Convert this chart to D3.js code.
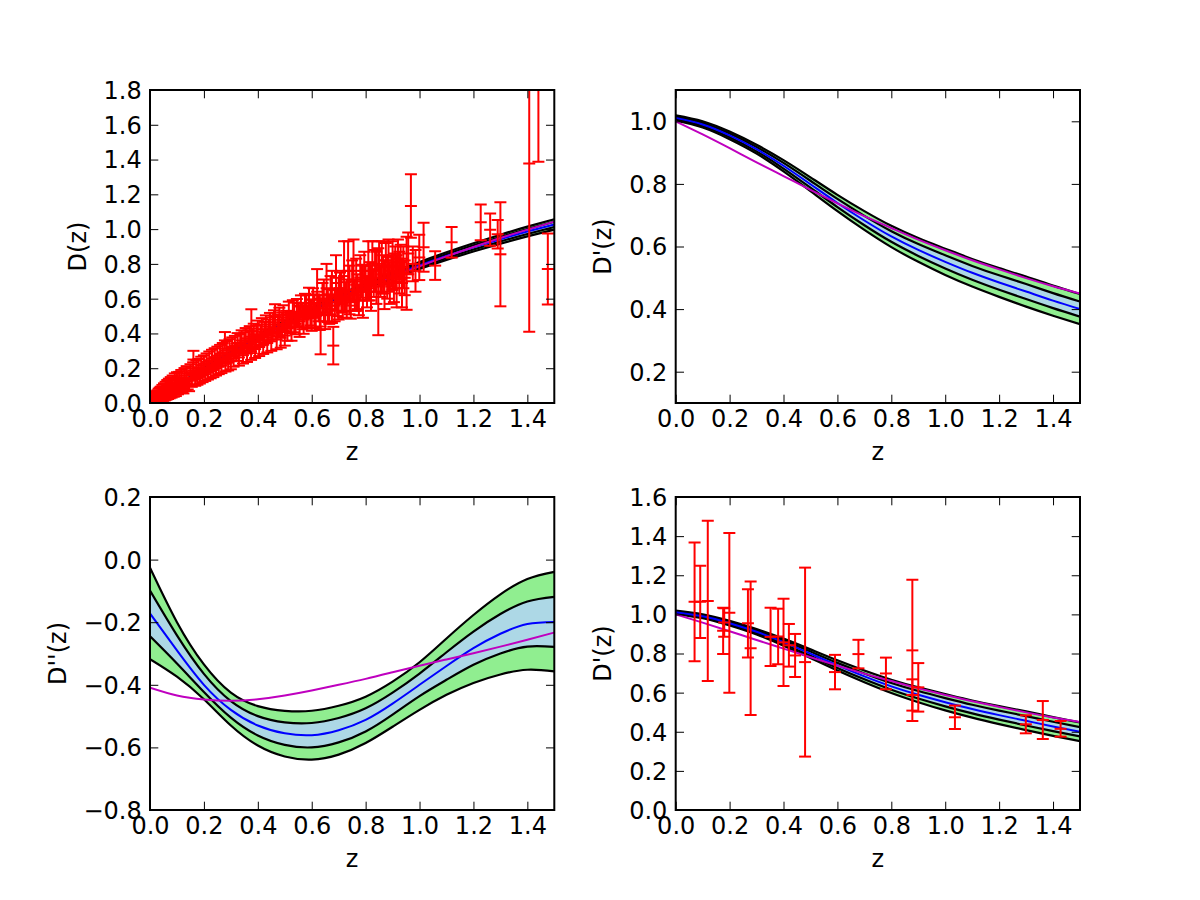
<!DOCTYPE html>
<html lang="en">
<head>
  <meta charset="utf-8">
  <title>D(z) reconstruction</title>
  <script src="https://d3js.org/d3.v7.min.js"></script>
  <style>
    body { margin: 0; background: #fff; }
    svg text { font-family: "DejaVu Sans", sans-serif; font-size: 24px; fill: #000; }
  </style>
</head>
<body>
<script type="text/javascript">
  // redshift grid for the reconstructed curves
  var zGrid = [0, 0.1, 0.2, 0.3, 0.4, 0.5, 0.6, 0.7, 0.8, 0.9, 1.0, 1.1, 1.2, 1.3, 1.4, 1.5];

  // D(z)
  var dMean  = [0.000,0.100,0.197,0.291,0.379,0.461,0.537,0.608,0.673,0.734,0.791,0.845,0.895,0.942,0.986,1.027];
  var dHi1   = [0.000,0.101,0.199,0.294,0.383,0.466,0.543,0.615,0.681,0.743,0.801,0.856,0.907,0.955,1.000,1.042];
  var dLo1   = [0.000,0.099,0.195,0.288,0.375,0.456,0.531,0.601,0.665,0.725,0.781,0.834,0.883,0.929,0.972,1.012];
  var dHi2   = [0.000,0.102,0.201,0.297,0.387,0.471,0.549,0.622,0.689,0.752,0.811,0.867,0.919,0.968,1.014,1.057];
  var dLo2   = [0.000,0.098,0.193,0.285,0.371,0.451,0.525,0.594,0.657,0.716,0.771,0.823,0.871,0.916,0.958,0.997];
  var dModel = [0.000,0.098,0.192,0.281,0.365,0.446,0.522,0.593,0.661,0.725,0.786,0.843,0.897,0.949,0.997,1.043];

  // D'(z)
  var dpMean  = [1.011,0.990,0.955,0.911,0.858,0.799,0.739,0.683,0.632,0.589,0.551,0.516,0.485,0.456,0.427,0.400];
  var dpHi1   = [1.015,0.995,0.961,0.918,0.867,0.810,0.752,0.698,0.649,0.608,0.572,0.538,0.508,0.480,0.451,0.424];
  var dpLo1   = [1.007,0.985,0.949,0.904,0.849,0.788,0.726,0.668,0.615,0.570,0.530,0.494,0.462,0.432,0.403,0.376];
  var dpHi2   = [1.019,1.000,0.967,0.925,0.876,0.821,0.765,0.713,0.666,0.627,0.593,0.560,0.531,0.504,0.475,0.448];
  var dpLo2   = [1.003,0.980,0.943,0.897,0.840,0.777,0.713,0.653,0.598,0.551,0.509,0.472,0.439,0.408,0.379,0.352];
  var dpModel = [1.000,0.958,0.914,0.869,0.825,0.781,0.738,0.697,0.659,0.622,0.588,0.556,0.527,0.499,0.473,0.450];

  // D''(z)
  var ddMean  = [-0.172,-0.290,-0.400,-0.480,-0.530,-0.555,-0.561,-0.545,-0.512,-0.460,-0.400,-0.340,-0.283,-0.237,-0.206,-0.199];
  var ddHi1   = [-0.099,-0.242,-0.365,-0.452,-0.500,-0.520,-0.522,-0.506,-0.475,-0.425,-0.364,-0.296,-0.230,-0.174,-0.134,-0.119];
  var ddLo1   = [-0.245,-0.332,-0.423,-0.505,-0.562,-0.592,-0.600,-0.584,-0.549,-0.495,-0.436,-0.384,-0.336,-0.300,-0.278,-0.279];
  var ddHi2   = [-0.026,-0.200,-0.335,-0.425,-0.468,-0.483,-0.483,-0.467,-0.438,-0.390,-0.328,-0.252,-0.177,-0.111,-0.062,-0.039];
  var ddLo2   = [-0.318,-0.374,-0.446,-0.530,-0.594,-0.629,-0.639,-0.623,-0.586,-0.534,-0.480,-0.432,-0.394,-0.367,-0.352,-0.357];
  var ddModel = [-0.409,-0.434,-0.447,-0.451,-0.446,-0.434,-0.418,-0.400,-0.381,-0.360,-0.339,-0.319,-0.299,-0.278,-0.256,-0.233];

  // supernova points for D(z)
  var snZ = [0.010,0.012,0.014,0.015,0.017,0.019,0.021,0.023,0.024,0.026,0.028,0.030,0.032,0.034,0.036,0.038,0.040,0.043,0.046,0.049,
             0.052,0.055,0.058,0.061,0.064,0.067,0.070,0.073,0.077,0.080,0.084,0.088,0.092,0.096,0.100,
             0.104,0.108,0.112,0.116,0.120,0.124,0.128,0.132,0.136,0.140,0.145,0.150,0.155,0.160,0.161,0.168,0.172,0.176,0.180,0.185,
             0.190,0.195,0.200,0.205,0.210,0.215,0.220,0.225,0.230,0.235,0.240,0.245,0.250,0.255,0.260,0.265,0.270,0.278,0.280,0.285,0.290,0.295,0.300,
             0.305,0.310,0.315,0.320,0.325,0.330,0.335,0.340,0.345,0.350,0.355,0.360,0.365,0.370,0.375,0.376,0.380,0.385,0.390,0.395,
             0.400,0.405,0.410,0.415,0.420,0.425,0.430,0.435,0.440,0.445,0.450,0.455,0.460,0.464,0.470,0.475,0.480,0.485,0.490,0.495,0.500,
             0.505,0.510,0.515,0.520,0.525,0.530,0.535,0.540,0.545,0.550,0.555,0.560,0.565,0.570,0.575,0.580,0.585,0.590,0.595,0.600,
             0.605,0.610,0.615,0.620,0.625,0.630,0.633,0.640,0.645,0.650,0.655,0.660,0.665,0.670,0.675,0.680,0.685,0.690,0.695,0.700,
             0.705,0.710,0.715,0.720,0.725,0.730,0.735,0.740,0.745,0.750,0.755,0.760,0.765,0.770,0.775,0.780,0.785,0.790,0.795,0.800,
             0.805,0.810,0.815,0.820,0.825,0.830,0.835,0.840,0.847,0.850,0.855,0.860,0.865,0.870,0.875,0.880,0.885,0.890,0.895,0.900,
             0.905,0.910,0.915,0.920,0.925,0.930,0.935,0.940,0.945,0.952,0.958,0.968,0.975,0.985,0.999,1.015,1.058,1.119,1.227,1.262,
             1.290,1.300,1.407,1.441,1.476];
  var snD = [0.014,0.006,0.024,0.009,0.030,0.012,0.036,0.016,0.042,0.019,0.047,0.022,0.054,0.025,0.058,0.028,0.064,0.032,0.072,0.036,
             0.080,0.040,0.088,0.045,0.097,0.050,0.104,0.055,0.112,0.060,0.120,0.066,0.130,0.071,0.136,
             0.080,0.138,0.088,0.148,0.095,0.085,0.158,0.105,0.168,0.112,0.100,0.178,0.128,0.188,0.250,0.135,0.198,0.142,0.206,0.150,
             0.218,0.158,0.226,0.166,0.236,0.175,0.246,0.182,0.256,0.190,0.264,0.200,0.272,0.208,0.282,0.215,0.292,0.360,0.225,0.302,0.232,0.312,0.240,
             0.322,0.255,0.330,0.292,0.345,0.262,0.340,0.360,0.275,0.350,0.372,0.285,0.360,0.382,0.298,0.413,0.370,0.395,0.310,0.385,
             0.412,0.322,0.392,0.425,0.335,0.405,0.440,0.345,0.418,0.452,0.355,0.430,0.465,0.500,0.365,0.445,0.478,0.375,0.455,0.490,0.388,
             0.470,0.430,0.508,0.460,0.438,0.525,0.492,0.455,0.520,0.505,0.470,0.555,0.500,0.480,0.560,0.528,0.490,0.575,0.520,0.505,
             0.575,0.530,0.500,0.640,0.545,0.520,0.440,0.600,0.590,0.505,0.660,0.560,0.540,0.620,0.610,0.330,0.560,0.690,0.580,0.600,
             0.660,0.640,0.570,0.730,0.610,0.600,0.760,0.650,0.560,0.700,0.760,0.620,0.680,0.640,0.590,0.720,0.700,0.640,0.760,0.690,
             0.640,0.760,0.700,0.660,0.800,0.690,0.760,0.720,0.640,0.800,0.700,0.780,0.740,0.680,0.820,0.720,0.790,0.690,0.760,0.790,
             0.720,0.780,0.700,0.830,0.750,0.810,0.690,0.780,0.720,0.746,0.860,1.133,0.800,0.760,0.837,0.896,0.790,0.924,1.039,0.997,
             0.970,0.855,1.378,2.300,0.771];
  var snErr = [0.014,0.016,0.020,0.014,0.022,0.016,0.024,0.018,0.026,0.019,0.026,0.020,0.028,0.021,0.030,0.022,0.030,0.023,0.032,0.024,
               0.033,0.025,0.034,0.026,0.035,0.027,0.036,0.028,0.037,0.029,0.038,0.030,0.040,0.031,0.041,
               0.030,0.041,0.031,0.042,0.032,0.030,0.043,0.033,0.044,0.034,0.032,0.045,0.035,0.046,0.050,0.036,0.046,0.037,0.047,0.038,
               0.048,0.038,0.048,0.039,0.049,0.040,0.050,0.040,0.050,0.041,0.051,0.042,0.052,0.042,0.052,0.043,0.053,0.048,0.044,0.054,0.045,0.055,0.046,
               0.055,0.046,0.056,0.050,0.057,0.047,0.056,0.058,0.048,0.057,0.059,0.049,0.058,0.060,0.050,0.126,0.058,0.061,0.051,0.060,
               0.062,0.052,0.060,0.063,0.053,0.061,0.064,0.054,0.062,0.066,0.055,0.063,0.068,0.068,0.056,0.064,0.070,0.057,0.066,0.072,0.058,
               0.060,0.072,0.075,0.058,0.080,0.066,0.085,0.060,0.078,0.070,0.090,0.064,0.076,0.082,0.068,0.092,0.062,0.088,0.074,0.090,
               0.085,0.095,0.070,0.130,0.075,0.100,0.160,0.090,0.120,0.080,0.140,0.095,0.085,0.110,0.150,0.108,0.090,0.160,0.080,0.120,
               0.090,0.120,0.080,0.200,0.085,0.110,0.170,0.140,0.075,0.120,0.180,0.090,0.150,0.100,0.085,0.130,0.095,0.150,0.110,0.100,
               0.090,0.170,0.110,0.130,0.130,0.080,0.120,0.150,0.250,0.130,0.090,0.150,0.110,0.140,0.100,0.120,0.150,0.120,0.090,0.140,
               0.140,0.120,0.150,0.110,0.120,0.100,0.140,0.120,0.100,0.210,0.120,0.182,0.100,0.120,0.130,0.141,0.082,0.088,0.103,0.093,
               0.082,0.299,0.968,0.912,0.204];

  // H(z) points for D'(z)
  var hzZ   = [0.070,0.091,0.119,0.176,0.180,0.199,0.268,0.278,0.352,0.380,0.400,0.420,0.443,0.480,0.591,0.678,0.780,0.878,0.878,0.900,1.036,1.299,1.362,1.428];
  var hzD   = [1.064,1.064,1.069,0.916,0.958,1.008,0.954,0.827,0.885,0.887,0.857,0.842,0.790,0.756,0.705,0.797,0.698,0.816,0.588,0.627,0.474,0.438,0.460,0.415];
  var hzErr = [0.304,0.185,0.409,0.118,0.073,0.408,0.175,0.341,0.149,0.142,0.223,0.109,0.110,0.483,0.088,0.073,0.081,0.361,0.080,0.124,0.060,0.046,0.097,0.040];

  // tick values
  var xTicks    = [0, 0.2, 0.4, 0.6, 0.8, 1.0, 1.2, 1.4];
  var yTicksD   = [0, 0.2, 0.4, 0.6, 0.8, 1.0, 1.2, 1.4, 1.6, 1.8];
  var yTicksDp  = [0.2, 0.4, 0.6, 0.8, 1.0];
  var yTicksDdp = [-0.8, -0.6, -0.4, -0.2, 0.0, 0.2];
  var yTicksH   = [0, 0.2, 0.4, 0.6, 0.8, 1.0, 1.2, 1.4, 1.6];

  var w = 1200, h = 900;
  var tickLen = 8.3, pad = 8.33;

  var svg = d3.select('body').append('svg')
      .attr('width', w)
      .attr('height', h);

  var panels = [
    {id: 1, left: 150, right: 554.3, top: 90, bottom: 403, yDomain: [0, 1.8], yTicks: yTicksD, ylabel: "D(z)",
     c: {mean: dMean, hi1: dHi1, lo1: dLo1, hi2: dHi2, lo2: dLo2, model: dModel}, pts: {z: snZ, v: snD, e: snErr}},
    {id: 2, left: 675.7, right: 1080, top: 90, bottom: 403, yDomain: [0.1, 1.1], yTicks: yTicksDp, ylabel: "D'(z)",
     c: {mean: dpMean, hi1: dpHi1, lo1: dpLo1, hi2: dpHi2, lo2: dpLo2, model: dpModel}, pts: null},
    {id: 3, left: 150, right: 554.3, top: 497, bottom: 810, yDomain: [-0.8, 0.2], yTicks: yTicksDdp, ylabel: "D''(z)",
     c: {mean: ddMean, hi1: ddHi1, lo1: ddLo1, hi2: ddHi2, lo2: ddLo2, model: ddModel}, pts: null},
    {id: 4, left: 675.7, right: 1080, top: 497, bottom: 810, yDomain: [0, 1.6], yTicks: yTicksH, ylabel: "D'(z)",
     c: {mean: dpMean, hi1: dpHi1, lo1: dpLo1, hi2: dpHi2, lo2: dpLo2, model: dpModel}, pts: {z: hzZ, v: hzD, e: hzErr}}
  ];

  panels.forEach(drawPanel);

  function drawPanel(p) {
    var x = d3.scaleLinear().domain([0, 1.5]).range([p.left, p.right]);
    var y = d3.scaleLinear().domain(p.yDomain).range([p.bottom, p.top]);
    var g = svg.append('g');

    svg.append('clipPath').attr('id', 'clip' + p.id)
      .append('rect')
        .attr('x', p.left).attr('y', p.top)
        .attr('width', p.right - p.left).attr('height', p.bottom - p.top);
    var plot = g.append('g').attr('clip-path', 'url(#clip' + p.id + ')');

    var c = p.c;
    var rows = zGrid.map(function(z, i) {
      return {z: z, mean: c.mean[i], hi1: c.hi1[i], lo1: c.lo1[i], hi2: c.hi2[i], lo2: c.lo2[i], model: c.model[i]};
    });
    var band = function(hi, lo) {
      return d3.area().curve(d3.curveNatural)
        .x(function(d) { return x(d.z); })
        .y0(function(d) { return y(d[lo]); })
        .y1(function(d) { return y(d[hi]); });
    };
    var line = function(key) {
      return d3.line().curve(d3.curveNatural)
        .x(function(d) { return x(d.z); })
        .y(function(d) { return y(d[key]); });
    };

    plot.append('path').datum(rows).attr('d', band('hi2', 'lo2')).style('fill', '#90ee90');
    plot.append('path').datum(rows).attr('d', band('hi1', 'lo1')).style('fill', '#add8e6');
    ['hi2', 'hi1', 'lo1', 'lo2'].forEach(function(k) {
      plot.append('path').datum(rows).attr('d', line(k))
        .style('fill', 'none').style('stroke', '#000').style('stroke-width', 2.2);
    });
    plot.append('path').datum(rows).attr('d', line('mean'))
      .style('fill', 'none').style('stroke', '#0000ff').style('stroke-width', 2);
    plot.append('path').datum(rows).attr('d', line('model'))
      .style('fill', 'none').style('stroke', '#bf00bf').style('stroke-width', 2);

    // error bars
    if (p.pts) {
      var pts = p.pts.z.map(function(z, i) { return {z: z, v: p.pts.v[i], e: p.pts.e[i]}; });
      var cap = 6;
      var eb = plot.append('g').style('stroke', '#ff0000').style('stroke-width', 2).style('fill', 'none');
      var pg = eb.selectAll('g').data(pts).enter().append('g');
      pg.append('line')
        .attr('x1', function(d) { return x(d.z); }).attr('x2', function(d) { return x(d.z); })
        .attr('y1', function(d) { return y(d.v - d.e); }).attr('y2', function(d) { return y(d.v + d.e); });
      [-1, 0, 1].forEach(function(s) {
        pg.append('line')
          .attr('x1', function(d) { return x(d.z) - cap; }).attr('x2', function(d) { return x(d.z) + cap; })
          .attr('y1', function(d) { return y(d.v + s * d.e); }).attr('y2', function(d) { return y(d.v + s * d.e); });
      });
    }

    // ticks on all four sides, pointing inward
    var clean = function(sel) {
      sel.select('.domain').remove();
      sel.attr('font-size', null).attr('font-family', null);
      sel.selectAll('.tick line').style('stroke-width', 1);
    };
    g.append('g').attr('transform', 'translate(0,' + p.bottom + ')')
      .call(d3.axisBottom(x).tickValues(xTicks).tickFormat(d3.format('.1f'))
        .tickSizeInner(-tickLen).tickSizeOuter(0).tickPadding(6.5))
      .call(clean);
    g.append('g').attr('transform', 'translate(0,' + p.top + ')')
      .call(d3.axisTop(x).tickValues(xTicks).tickFormat('')
        .tickSizeInner(-tickLen).tickSizeOuter(0))
      .call(clean);
    var yl = g.append('g').attr('transform', 'translate(' + p.left + ',0)')
      .call(d3.axisLeft(y).tickValues(p.yTicks).tickFormat(d3.format('.1f'))
        .tickSizeInner(-tickLen).tickSizeOuter(0).tickPadding(pad))
      .call(clean);
    yl.selectAll('.tick text').attr('dy', '0.35em');
    g.append('g').attr('transform', 'translate(' + p.right + ',0)')
      .call(d3.axisRight(y).tickValues(p.yTicks).tickFormat('')
        .tickSizeInner(-tickLen).tickSizeOuter(0))
      .call(clean);

    // frame
    g.append('rect')
      .attr('x', p.left).attr('y', p.top)
      .attr('width', p.right - p.left).attr('height', p.bottom - p.top)
      .style('fill', 'none').style('stroke', '#000').style('stroke-width', 2);

    // axis labels
    g.append('text')
      .attr('x', (p.left + p.right) / 2)
      .attr('y', p.bottom + 57)
      .attr('text-anchor', 'middle')
      .text('z');

    var minX = d3.min(yl.selectAll('.tick text').nodes(), function(n) { return n.getBBox().x; }) + p.left;
    var bx = minX - pad - 9.5;
    g.append('text')
      .attr('transform', 'translate(' + bx + ',' + ((p.top + p.bottom) / 2) + ') rotate(-90)')
      .attr('text-anchor', 'middle')
      .text(p.ylabel);
  }
</script>
</body>
</html>
